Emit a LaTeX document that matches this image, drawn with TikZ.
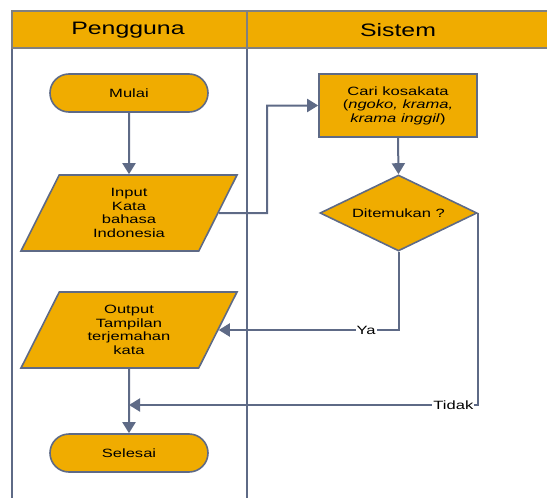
\documentclass[tikz,border=0pt]{standalone}
\usepackage{fontspec}
\setmainfont{Liberation Sans}[FakeStretch=1.38]
\usetikzlibrary{shapes.geometric,arrows.meta,calc}

\definecolor{flowfill}{HTML}{F0AC00}
\definecolor{flowline}{HTML}{5E6A86}
\definecolor{headline}{HTML}{808080}

\tikzset{
  base/.style={draw=flowline, line width=1.6pt, fill=flowfill, align=center,
    font=\fontsize{12}{13.5}\selectfont, inner sep=0pt},
  terminal/.style={base, rectangle, rounded corners=19pt,
    minimum width=158pt, minimum height=38pt},
  process/.style={base, rectangle, minimum width=158pt, minimum height=63pt},
  io/.style={base, trapezium, trapezium left angle=52, trapezium right angle=128,
    trapezium stretches body, minimum width=216pt, minimum height=76pt},
  decision/.style={base, diamond, shape aspect=2.07,
    minimum width=157pt, minimum height=76pt},
  flow/.style={draw=flowline, line width=2pt,
    -{Triangle[length=11pt,width=13pt]}},
  lane/.style={draw=flowline, line width=2pt},
  laneheader/.style={font=\fontsize{18}{20}\selectfont},
  branch/.style={fill=white, inner sep=1pt, font=\fontsize{12}{13.5}\selectfont}
}

\begin{document}
\begin{tikzpicture}[x=1pt, y=-1pt]
  \useasboundingbox (0,0) rectangle (547,498);

  % swimlanes
  \draw[lane] (12,48) -- (12,500);
  \draw[lane] (247,48) -- (247,500);
  \fill[flowfill] (12,11) rectangle (552,48);
  \draw[headline, line width=2pt] (552,11) -- (12,11) -- (12,48) -- (552,48);
  \draw[headline, line width=2pt] (247,11) -- (247,48);
  \node[laneheader] (hpeng) at (128,30.5) {Pengguna};
  \node[laneheader] (hsis) at (398,30.5) {Sistem};

  % flow nodes
  \node[terminal] (mulai) at (129,93) {Mulai};
  \node[io] (input) at (129,213) {Input\\Kata\\bahasa\\Indonesia};
  \node[process] (cari) at (398,105.5)
    {Cari kosakata\\(\textit{ngoko, krama,}\\\textit{krama inggil})};
  \node[decision] (temu) at (398.5,213) {Ditemukan ?};
  \node[io] (output) at (129,330) {Output\\Tampilan\\terjemahan\\kata};
  \node[terminal] (selesai) at (129,453) {Selesai};

  % midpoints of the slanted right sides, and the merge point above Selesai
  \coordinate (inright) at ($(input.top right corner)!0.5!(input.bottom right corner)$);
  \coordinate (outright) at ($(output.top right corner)!0.5!(output.bottom right corner)$);
  \coordinate (gabung) at (129,405);

  % connectors
  \draw[flow] (mulai.south) -- (input.north);
  \draw[flow] (inright) -- (267,213) |- (cari.west);
  \draw[flow] (cari.south) -- (temu.north);
  \draw[flow] (temu.south) |- node[branch, pos=0.59] {Ya} (outright);
  \draw[flow] (output.south) -- (selesai.north);
  \draw[flow] (temu.east) |- node[branch, pos=0.535] {Tidak} (gabung);
\end{tikzpicture}
\end{document}
